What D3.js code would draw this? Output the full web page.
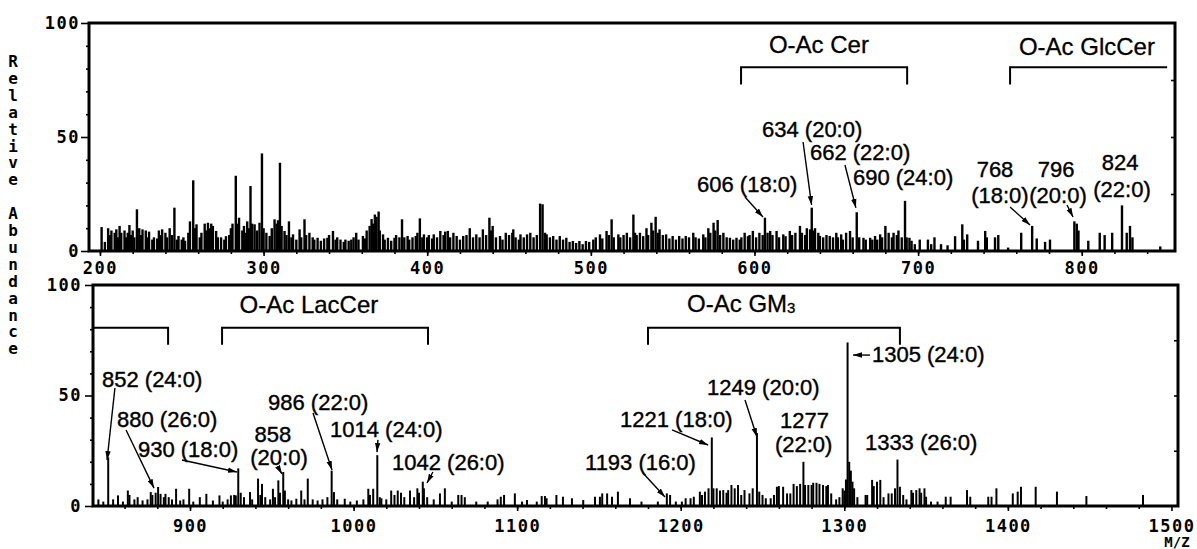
<!DOCTYPE html>
<html>
<head>
<meta charset="utf-8">
<script src="https://cdn.jsdelivr.net/npm/d3@7"></script>
<style>
body { margin: 0; background: #fff; }
svg { display: block; }
.axis text { font-family: "DejaVu Sans Mono", monospace; font-weight: bold; font-size: 17px; letter-spacing: 1.5px; fill: #000; }
.axis line { stroke: #000; stroke-width: 1.6; }
.lbl { font-family: "Liberation Sans", Arial, sans-serif; font-size: 22px; fill: #000; stroke: #000; stroke-width: 0.4; }
.grp { font-family: "Liberation Sans", Arial, sans-serif; font-size: 24px; fill: #000; stroke: #000; stroke-width: 0.3; }
.title { font-family: "DejaVu Sans Mono", monospace; font-weight: bold; font-size: 16px; fill: #000; }
</style>
</head>
<body>
<svg id="chart" width="1197" height="549"></svg>
<script>
// m/z, relative abundance (upper trace, 200-850)
const topPeaks = [
  [201, 10.5], [203, 4], [205, 10], [206, 7], [207, 9], [209, 8], [210, 9.5], [211, 6], [212, 11], [213, 8],
  [215, 9], [216, 6], [217, 8], [218, 11.4], [219, 7], [220, 9], [221, 6], [222.6, 18.3], [224, 10], [225, 7],
  [226, 9.5], [228, 9], [229, 6], [230, 8.5], [232, 5], [233, 6], [235, 5.5], [236, 9], [237, 7], [238, 9.5],
  [240, 8], [241, 6], [242.6, 10], [244, 7], [245.5, 19], [247, 5], [248, 6.6], [250, 5], [251, 6], [252, 4.5],
  [254, 8], [255, 13], [257, 31], [258, 10], [259, 11.7], [261, 6], [262, 8], [264, 12], [265, 9], [266, 12.4],
  [267, 10], [268, 12], [269, 11], [271, 8.8], [272, 6], [274, 6], [276, 5], [277, 6.5], [279, 7], [280, 10],
  [281, 12], [283, 33], [284, 12], [285, 14.6], [287, 9], [288, 11], [289, 8], [290, 13], [291, 10], [292, 28.5],
  [293, 12], [294.5, 11.7], [296, 9], [297.5, 12.4], [299, 42.8], [300, 10], [301.7, 8], [303.7, 6.6], [305, 10], [306.7, 13.9],
  [308, 12], [308.8, 13.5], [310, 38.7], [311, 11], [312.8, 8.8], [314, 7], [315.5, 13], [317, 6], [318, 7.3], [320, 5],
  [322, 9.5], [323, 6], [325, 13.9], [326, 7], [328, 8], [330, 6], [331, 5], [333, 5.8], [335, 4.5], [337, 5.5],
  [339, 5.8], [340, 7], [342.4, 8.8], [344, 5], [345, 6], [347, 5], [349, 4], [350, 5], [352, 4.5], [353.6, 5],
  [355, 6], [356.6, 8], [358, 5], [360.7, 6.6], [362, 5.5], [363, 9], [364.8, 11], [366, 14], [367, 12], [368, 16],
  [369, 15], [370.3, 17.3], [371, 9], [373, 7.3], [374, 5], [376, 5.8], [378, 4.5], [380, 5.8], [381, 7], [383, 6],
  [384.6, 13.9], [386, 6], [388, 6.6], [389, 5], [391, 6], [393, 6.6], [394, 8], [395.5, 14.3], [397, 6], [398, 7.3],
  [400, 6], [401, 7], [403, 5.5], [404, 7.3], [406, 6], [408, 8.8], [410, 7], [411, 8.5], [412.6, 8.8], [414, 6],
  [416, 8], [418, 6.6], [420, 5], [422, 6.6], [424, 7], [426, 10], [428, 6], [430, 7.3], [432, 6], [434, 9.5],
  [436, 7], [438, 14.6], [439, 9], [440, 11], [442, 6], [444.5, 6.6], [446, 5], [448, 8], [450, 7], [452, 8],
  [452.6, 9.5], [454, 6], [456, 5], [457, 7.3], [459, 6], [461, 7.3], [463, 8], [465, 6], [467, 7], [469, 20.8],
  [470.5, 20.5], [472, 8], [473, 7.3], [475, 6], [477, 6.6], [479, 5], [481, 6.6], [483, 5], [485, 5.8], [487, 4],
  [489, 4.4], [491, 3.5], [493, 4.4], [495, 3], [497, 4.4], [499, 4], [501.5, 5], [503, 6], [505.6, 7.3], [507, 5.5],
  [509.6, 8.8], [511, 7], [512.7, 13.9], [514, 6], [516.8, 7.3], [518, 6], [520, 7], [522, 8], [524, 6], [526, 16],
  [527, 8], [528, 7], [530, 8], [532, 6.5], [534, 10], [535, 7], [537, 12.4], [538, 9], [539.6, 15], [541, 8],
  [542, 9.5], [544, 7], [546, 7.3], [548, 5.5], [550, 6.6], [552, 5], [554, 6.6], [556, 5.5], [558, 6.6], [560, 6],
  [562.6, 8], [564, 6], [566, 5.5], [568.7, 7.3], [570, 6], [571.8, 10], [573, 8], [575, 12.4], [576, 9], [577.5, 13.6],
  [579, 7], [581, 8], [583, 6], [585, 5.8], [587, 5], [589, 5.8], [591, 5], [592, 6], [594, 8], [596, 6.5],
  [597, 7], [599, 8.8], [601, 6], [603, 8], [605, 7], [606.4, 14.6], [608, 8], [609.6, 8.8], [611, 7], [613.5, 8.8],
  [615, 6], [617.6, 7.3], [619, 6.5], [621.6, 8.8], [623, 7], [625, 8], [627.8, 11], [629, 8], [631, 7], [632, 10],
  [634, 9.5], [635, 19], [636, 9], [637, 10], [639, 8], [640, 6.6], [642, 6], [644, 7], [646, 6.6], [648, 6],
  [650, 8], [651, 6], [653, 7.3], [654, 5], [656, 8], [658.4, 8.8], [660, 6], [662.5, 17], [664, 6], [666.6, 5.8],
  [668, 5], [670.7, 5.8], [672, 5], [673.7, 6.6], [675, 5], [676.8, 7.3], [678, 6], [680, 11], [682, 8], [684, 6],
  [685, 8], [687, 7], [688, 9], [690, 6], [692, 22], [693, 6], [694.7, 5.8], [696, 4.5], [698, 3], [701, 5],
  [706, 5], [708, 3], [710, 6], [714, 3], [718, 2.5], [722.6, 6.5], [727, 11.7], [728, 5], [730, 7.3], [736.6, 4.5],
  [741, 8.8], [742, 6], [747, 6], [749, 7], [755, 1.5], [763, 8], [769.7, 11], [772.5, 5.5], [777.6, 4], [780.6, 5],
  [795.5, 13], [797, 12], [798, 9], [804, 4.5], [811, 8], [814, 7], [818.6, 8], [824.6, 20], [827.5, 8], [829.5, 11],
  [831, 6], [848, 2]
];

// m/z, relative abundance (lower trace, 840-1500)
const bottomPeaks = [
  [844, 3], [847, 2], [850, 22], [853, 3], [856, 4.8], [859, 2], [862, 7], [863, 5], [866, 3], [868, 4],
  [871, 2.5], [874, 3], [876, 6.3], [877, 5], [879, 6], [880.5, 8.6], [882, 5.5], [884, 4], [885, 5.5], [887, 4],
  [889, 3], [891.5, 7.8], [894, 2.5], [896, 3], [899.5, 7.8], [902, 2], [906, 4], [910, 5.5], [914, 2.5], [918, 4.8],
  [920, 2], [923, 3], [925, 4.8], [927, 5], [928, 4.8], [929.5, 17], [931, 6], [933, 4], [936.7, 6.3], [938, 3],
  [941.6, 12.4], [943, 5], [944, 10], [946, 4], [949, 3], [950.7, 7.8], [952, 4], [954, 11.6], [955, 6], [957, 15.4],
  [958, 7], [960, 3], [962, 2.5], [965, 3.3], [968, 7], [970, 3], [972, 12.4], [975, 3], [978, 2.5], [981, 3],
  [984, 4], [986.6, 16], [988, 6.3], [990, 3], [994.6, 3.3], [998, 2], [1002, 2.5], [1006, 3], [1009, 7.8], [1010, 5],
  [1012, 7.8], [1014.5, 23], [1016, 4], [1017, 3.5], [1020, 3], [1023, 7], [1025, 5], [1027, 7], [1029, 6], [1031, 4],
  [1034.5, 7], [1037, 4], [1039, 8], [1040, 6], [1042.3, 11], [1043, 8], [1045, 4], [1049, 3], [1052.8, 5.7], [1055.8, 8],
  [1060, 2], [1064, 5], [1066, 5], [1068, 4], [1075, 2], [1082, 2], [1088, 3], [1090, 4.2], [1092, 5], [1098.6, 5.7],
  [1103, 2], [1106, 2.7], [1112, 2], [1115, 4.5], [1117, 4.5], [1118, 3.5], [1124, 5], [1128, 4.2], [1133.5, 3.5], [1140.4, 2.7],
  [1147.6, 4.2], [1150.6, 4.2], [1152, 5.7], [1155, 5.7], [1158, 4.2], [1161.6, 6.5], [1169, 3.5], [1176, 2], [1186, 2], [1191.5, 5.7],
  [1193.5, 5], [1197, 2], [1200.7, 2], [1203, 3.5], [1206, 3.5], [1208, 4.2], [1211.7, 6.5], [1213, 5], [1214.8, 6.5], [1217, 8],
  [1219, 31], [1220, 8], [1222, 8], [1224, 7], [1226, 7.2], [1228, 6], [1229, 7.2], [1231, 9.5], [1233, 8], [1235, 9.5],
  [1237, 5], [1239, 7.2], [1242, 5.7], [1244, 8], [1246.6, 33], [1248, 6.5], [1250, 5], [1252, 3.5], [1255, 3.5], [1257, 5],
  [1258.8, 8.7], [1260, 9], [1262.6, 8.7], [1265, 5.7], [1267, 5.7], [1269, 10], [1271, 9], [1273, 10], [1275, 20], [1276, 9.5],
  [1278, 9.5], [1280, 9.5], [1281, 10.5], [1283, 10.5], [1284.8, 10], [1287, 9.5], [1289, 9], [1290, 9.5], [1292, 5.7], [1295, 3],
  [1297, 4], [1299, 8], [1300, 7], [1301, 12], [1302, 74], [1303, 20], [1304, 16], [1305, 11], [1306, 8], [1308, 4],
  [1313, 5], [1314, 5], [1317, 11.8], [1318, 9], [1320, 11], [1322, 11.8], [1324, 4], [1327, 5.7], [1329, 5.7], [1331, 8],
  [1332.5, 21], [1334, 8.7], [1336, 5], [1338, 3], [1341, 7.2], [1342, 6], [1344, 7.2], [1346, 8], [1347, 6], [1349, 8],
  [1350, 4.2], [1353, 2], [1357, 2], [1362, 4.2], [1365, 4.2], [1375, 7.2], [1377, 4.2], [1388, 4.2], [1390, 4.2], [1393, 8],
  [1403, 5.7], [1406, 6.5], [1408, 8.7], [1417, 8.7], [1430, 6.5], [1448, 4.5], [1482.6, 5]
];

const topTicks = [200, 300, 400, 500, 600, 700, 800];
const bottomTicks = [900, 1000, 1100, 1200, 1300, 1400, 1500];
const yTicks = [0, 50, 100];

// brackets over each lipid class: [from m/z, to m/z, left hook, right hook]
const topBrackets = [[591.8, 693.3, true, true], [756.2, 852.2, true, false]];
const bottomBrackets = [[840.7, 886.6, false, true], [919.6, 1045.5, true, true], [1180, 1334, true, true]];

// class names: [text, m/z, abundance, subscript]
const topGroups = [['O-Ac Cer', 639.4, 86.8, ''], ['O-Ac GlcCer', 803.2, 86, '']];
const bottomGroups = [['O-Ac LacCer', 972.7, 87.3, ''], ['O-Ac GM', 1237, 87.8, '3']];

// peak labels: [text, m/z, abundance, anchor]
const topLabels = [
  ['606 (18:0)', 564.9, 25.9, 'start'],
  ['634 (20:0)', 604.6, 50, 'start'],
  ['662 (22:0)', 633.9, 39.9, 'start'],
  ['690 (24:0)', 660.2, 28.9, 'start'],
  ['768', 747, 32.5, 'middle'], ['(18:0)', 750, 21, 'middle'],
  ['796', 784.3, 32.5, 'middle'], ['(20:0)', 785.5, 21, 'middle'],
  ['824', 823.4, 35.5, 'middle'], ['(22:0)', 824.6, 23.7, 'middle']
];
const bottomLabels = [
  ['852 (24:0)', 846.2, 53.8, 'start'],
  ['880 (26:0)', 855.4, 35.7, 'start'],
  ['930 (18:0)', 868.2, 22.2, 'start'],
  ['858', 950.7, 29, 'middle'], ['(20:0)', 954.4, 18.6, 'middle'],
  ['986 (22:0)', 947.7, 43.4, 'start'],
  ['1014 (24:0)', 985.6, 31.2, 'start'],
  ['1042 (26:0)', 1023.5, 16.3, 'start'],
  ['1193 (16:0)', 1141.5, 16.3, 'start'],
  ['1221 (18:0)', 1162.9, 35.7, 'start'],
  ['1249 (20:0)', 1216.1, 50.2, 'start'],
  ['1277', 1260.7, 35.3, 'start'], ['(22:0)', 1257.6, 24.4, 'start'],
  ['1305 (24:0)', 1316.9, 65.2, 'start'],
  ['1333 (26:0)', 1312.6, 25.3, 'start']
];

// arrows from label to peak: [m/z from, ab from, m/z to, ab to]
const topArrows = [
  [594.2, 23.7, 605.2, 14.9],
  [629.7, 47.8, 634.9, 20.2],
  [655.3, 37.7, 662.0, 18.9],
  [756.2, 19.3, 768.4, 11.4],
  [791, 20.2, 794.7, 14.9]
];
const bottomArrows = [
  [854.1, 53.4, 849.3, 20.8],
  [860.9, 34.4, 878, 8.1],
  [895.1, 20.8, 928.7, 15.4],
  [953.8, 17.6, 956.2, 14.5],
  [975.2, 42.1, 986.8, 16.3],
  [1014.9, 29.9, 1014.3, 24.4],
  [1048.5, 15.4, 1044.9, 10.4],
  [1176.9, 14.9, 1190.4, 4.1],
  [1194.7, 34.4, 1216.7, 27.6],
  [1239.3, 48, 1246.6, 31.2],
  [1315.7, 68.3, 1305.3, 68.3]
];

const svg = d3.select('#chart');

svg.append('defs').append('marker')
    .attr('id', 'head')
    .attr('viewBox', '0 0 10 6')
    .attr('refX', 10).attr('refY', 3)
    .attr('markerWidth', 9).attr('markerHeight', 6)
    .attr('markerUnits', 'userSpaceOnUse')
    .attr('orient', 'auto')
  .append('path')
    .attr('d', 'M0,0L10,3L0,6Z')
    .attr('fill', '#000');

function drawPanel(p) {
    const x = d3.scaleLinear().domain(p.domain).range([p.left, p.right]);
    const y = d3.scaleLinear().domain([0, 100]).range([p.base, p.top]);
    const g = svg.append('g');

    // sticks
    g.append('g').selectAll('line')
        .data(p.peaks)
        .join('line')
            .attr('x1', d => x(d[0])).attr('x2', d => x(d[0]))
            .attr('y1', y(0)).attr('y2', d => y(d[1]))
            .attr('stroke', '#000')
            .attr('stroke-width', p.stick);

    // x axis
    g.append('g').attr('class', 'axis')
        .attr('transform', `translate(0,${y(0)})`)
        .call(d3.axisBottom(x).tickValues(p.minor).tickSize(3).tickFormat(''))
        .call(a => a.select('.domain').remove());
    g.append('g').attr('class', 'axis')
        .attr('transform', `translate(0,${y(0)})`)
        .call(d3.axisBottom(x).tickValues(p.ticks).tickSize(5).tickPadding(p.xPad).tickFormat(d3.format('d')))
        .call(a => a.select('.domain').remove());

    // y axis
    g.append('g').attr('class', 'axis')
        .attr('transform', `translate(${p.left},0)`)
        .call(d3.axisLeft(y).tickValues([10, 20, 30, 40, 60, 70, 80, 90]).tickSize(3).tickFormat(''))
        .call(a => a.select('.domain').remove());
    g.append('g').attr('class', 'axis')
        .attr('transform', `translate(${p.left},0)`)
        .call(d3.axisLeft(y).tickValues(yTicks).tickSize(8).tickPadding(p.yPad).tickFormat(d3.format('d')))
        .call(a => a.select('.domain').remove());
    g.append('g').attr('class', 'axis')
        .attr('transform', `translate(${p.right},0)`)
        .call(d3.axisRight(y).tickValues([25, 50, 75]).tickSize(-4).tickFormat(''))
        .call(a => a.select('.domain').remove());

    // frame
    g.append('path')
        .attr('d', `M${p.left},${y(0)}V${y(100)}H${p.right}V${y(0)}Z`)
        .attr('fill', 'none')
        .attr('stroke', '#000')
        .attr('stroke-width', 3);

    // brackets
    const hook = 7.6;
    g.append('g').selectAll('path')
        .data(p.brackets)
        .join('path')
            .attr('d', d => {
                const yb = y(80.6), yh = y(80.6 - hook);
                return (d[2] ? `M${x(d[0])},${yh}V${yb}` : `M${x(d[0])},${yb}`) +
                    `H${x(d[1])}` + (d[3] ? `V${yh}` : '');
            })
            .attr('fill', 'none')
            .attr('stroke', '#000')
            .attr('stroke-width', 2);

    const grp = g.append('g').selectAll('text')
        .data(p.groups)
        .join('text')
            .attr('class', 'grp')
            .attr('x', d => x(d[1]))
            .attr('y', d => y(d[2]))
            .attr('text-anchor', 'middle')
            .text(d => d[0]);
    grp.filter(d => d[3]).append('tspan')
        .attr('font-size', 15)
        .attr('dy', 1)
        .text(d => d[3]);

    // peak labels
    g.append('g').selectAll('text')
        .data(p.labels)
        .join('text')
            .attr('class', 'lbl')
            .attr('x', d => x(d[1]))
            .attr('y', d => y(d[2]))
            .attr('text-anchor', d => d[3])
            .text(d => d[0]);

    g.append('g').selectAll('line')
        .data(p.arrows)
        .join('line')
            .attr('x1', d => x(d[0])).attr('y1', d => y(d[1]))
            .attr('x2', d => x(d[2])).attr('y2', d => y(d[3]))
            .attr('stroke', '#000')
            .attr('stroke-width', 1.4)
            .attr('marker-end', 'url(#head)');
}

drawPanel({
    domain: [193.3, 857], left: 89, right: 1175, base: 251, top: 23,
    peaks: topPeaks, ticks: topTicks, minor: d3.range(200, 860, 20),
    xPad: 6, yPad: 1, stick: 2.4,
    brackets: topBrackets, groups: topGroups, labels: topLabels, arrows: topArrows
});

drawPanel({
    domain: [840.7, 1504], left: 93, right: 1178, base: 506, top: 285,
    peaks: bottomPeaks, ticks: bottomTicks, minor: d3.range(860, 1500, 20),
    xPad: 9, yPad: 3, stick: 2,
    brackets: bottomBrackets, groups: bottomGroups, labels: bottomLabels, arrows: bottomArrows
});

// stacked y title
svg.append('g').selectAll('text')
    .data('Relative Abundance'.split(''))
    .join('text')
        .attr('class', 'title')
        .attr('x', 13)
        .attr('y', (d, i) => 67 + i * 16.9)
        .attr('text-anchor', 'middle')
        .text(d => d);

svg.append('text')
    .attr('class', 'title')
    .attr('x', 1177).attr('y', 547)
    .attr('text-anchor', 'middle')
    .style('font-size', '14px')
    .text('M/Z');
</script>
</body>
</html>
